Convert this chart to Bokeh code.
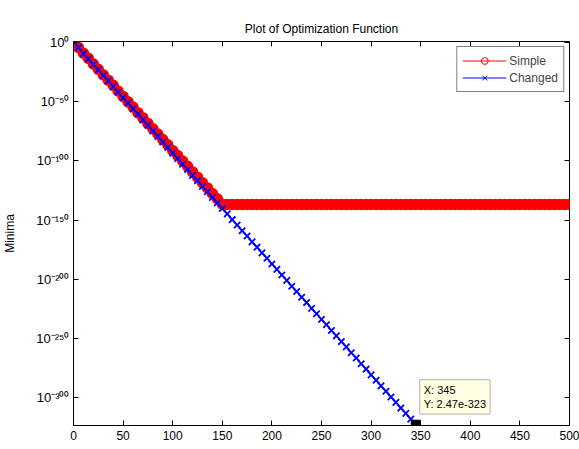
import numpy as np
from bokeh.plotting import figure
from bokeh.models import (Range1d, FixedTicker, LinearAxis, Legend,
                          LegendItem, Label, ColumnDataSource, CustomJSTickFormatter)
from bokeh.embed import file_html
from bokeh.resources import INLINE

# ---------------- data ----------------
title_text = "Plot of Optimization Function"
y_label = "Minima"
x_ticks = [0, 50, 100, 150, 200, 250, 300, 350, 400, 450, 500]
y_tick_exponents = [0, -50, -100, -150, -200, -250, -300]

# values are plotted as powers of ten (log10 of the minima)
simple_x = [0, 5, 10, 15, 20, 25, 30, 35, 40, 45, 50, 55, 60, 65, 70, 75, 80, 85,
            90, 95, 100, 105, 110, 115, 120, 125, 130, 135, 140, 145, 150,
            155, 160, 165, 170, 175, 180, 185, 190, 195, 200, 205, 210, 215, 220,
            225, 230, 235, 240, 245, 250, 255, 260, 265, 270, 275, 280, 285, 290,
            295, 300, 305, 310, 315, 320, 325, 330, 335, 340, 345, 350, 355, 360,
            365, 370, 375, 380, 385, 390, 395, 400, 405, 410, 415, 420, 425, 430,
            435, 440, 445, 450, 455, 460, 465, 470, 475, 480, 485, 490, 495, 500]
simple_exp = [0.0, -4.5, -9.3, -13.6, -18.4, -22.9, -27.5, -32.0, -36.4, -41.2,
              -45.7, -50.3, -54.6, -59.4, -63.8, -68.5, -73.0, -77.4, -82.1, -86.5,
              -91.3, -95.6, -100.2, -104.7, -109.4, -113.8, -118.5, -122.9, -127.6,
              -132.0, -136.7,
              -136.8, -136.8, -136.8, -136.8, -136.8, -136.8, -136.8, -136.8, -136.8,
              -136.8, -136.8, -136.8, -136.8, -136.8, -136.8, -136.8, -136.8, -136.8,
              -136.8, -136.8, -136.8, -136.8, -136.8, -136.8, -136.8, -136.8, -136.8,
              -136.8, -136.8, -136.8, -136.8, -136.8, -136.8, -136.8, -136.8, -136.8,
              -136.8, -136.8, -136.8, -136.8, -136.8, -136.8, -136.8, -136.8, -136.8,
              -136.8, -136.8, -136.8, -136.8, -136.8, -136.8, -136.8, -136.8, -136.8,
              -136.8, -136.8, -136.8, -136.8, -136.8, -136.8, -136.8, -136.8, -136.8,
              -136.8, -136.8, -136.8, -136.8, -136.8, -136.8, -136.8]

changed_x = [0, 5, 10, 15, 20, 25, 30, 35, 40, 45, 50, 55, 60, 65, 70, 75, 80, 85,
             90, 95, 100, 105, 110, 115, 120, 125, 130, 135, 140, 145, 150, 155,
             160, 165, 170, 175, 180, 185, 190, 195, 200, 205, 210, 215, 220, 225,
             230, 235, 240, 245, 250, 255, 260, 265, 270, 275, 280, 285, 290, 295,
             300, 305, 310, 315, 320, 325, 330, 335, 340, 345]
changed_exp = [0.0, -4.5, -9.6, -14.0, -18.8, -23.3, -28.1, -32.6, -37.5, -42.0,
               -46.9, -51.3, -56.2, -60.6, -65.5, -70.0, -74.9, -79.4, -84.2, -88.7,
               -93.6, -98.1, -102.9, -107.4, -112.3, -116.8, -121.6, -126.1, -131.0,
               -135.5, -140.3, -144.8, -149.7, -154.2, -159.0, -163.5, -168.4, -172.9,
               -177.7, -182.2, -187.1, -191.6, -196.4, -200.9, -205.8, -210.3, -215.1,
               -219.6, -224.5, -229.0, -233.8, -238.3, -243.2, -247.7, -252.5, -257.0,
               -261.9, -266.4, -271.2, -275.7, -280.6, -285.1, -289.9, -294.4, -299.3,
               -303.8, -308.6, -313.1, -317.9, -322.6]

tip_x = [345]
tip_y = [2.47e-323]
tip_text = "X: 345\nY: 2.47e-323"

# ---------------- figure ----------------
FONT = "Liberation Sans"
SUP = str.maketrans("-0123456789", "⁻⁰¹²³⁴⁵⁶⁷⁸⁹")

simple_src = ColumnDataSource(dict(x=simple_x, y=simple_exp))
changed_src = ColumnDataSource(dict(x=changed_x, y=changed_exp))
tip_src = ColumnDataSource(dict(x=tip_x, y=np.log10(np.array(tip_y))))

p = figure(width=579, height=449,
           x_range=Range1d(0, 500), y_range=Range1d(-323.3, 0.6),
           output_backend="svg", toolbar_location=None,
           min_border_left=71, min_border_right=10, min_border_top=41,
           min_border_bottom=24, background_fill_color="white",
           border_fill_color="white")

p.title.text = title_text
p.title.align = "center"
p.title.vertical_align = "middle"
p.title.text_font = FONT
p.title.text_font_size = "12px"
p.title.text_font_style = "normal"
p.title.text_color = "black"

p.xgrid.visible = False
p.ygrid.visible = False
p.outline_line_color = "black"
p.outline_line_width = 1

p.xaxis.ticker = FixedTicker(ticks=x_ticks)
p.yaxis.ticker = FixedTicker(ticks=y_tick_exponents)
p.yaxis.major_label_overrides = {e: "10" + str(e).translate(SUP) for e in y_tick_exponents}
for ax in list(p.xaxis) + list(p.yaxis):
    ax.major_tick_in = 5
    ax.major_tick_out = 0
    ax.minor_tick_line_color = None
    ax.axis_line_color = "black"
    ax.major_tick_line_color = "black"
    ax.major_label_text_font = FONT
    ax.major_label_text_font_size = "12px"
    ax.major_label_text_color = "black"
    ax.axis_label_text_font = FONT
    ax.axis_label_text_font_size = "12px"
    ax.axis_label_text_font_style = "normal"
    ax.axis_label_text_color = "black"
p.yaxis.axis_label = y_label
p.yaxis.axis_label_standoff = 16
p.yaxis.major_label_text_font_size = "13px"
p.yaxis.major_label_standoff = 4
p.xaxis.major_label_standoff = 5

top_ax = LinearAxis(ticker=FixedTicker(ticks=x_ticks), major_tick_in=5, major_tick_out=0,
                    minor_tick_line_color=None, axis_line_color=None,
                    formatter=CustomJSTickFormatter(code="return ''"),
                    major_label_standoff=0)
right_ax = LinearAxis(ticker=FixedTicker(ticks=y_tick_exponents),
                      major_tick_in=5, major_tick_out=0,
                      minor_tick_line_color=None, axis_line_color=None,
                      formatter=CustomJSTickFormatter(code="return ''"),
                      major_label_standoff=0)
p.add_layout(top_ax, "above")
p.add_layout(right_ax, "right")

# Simple series
r_line = p.line("x", "y", source=simple_src, line_color="red", line_width=1)
r_pts = p.scatter("x", "y", source=simple_src, marker="circle", size=10,
                  line_color="red", line_width=1.5, fill_color="red")
# Changed series
b_line = p.line("x", "y", source=changed_src, line_color="blue", line_width=1.5)
b_pts = p.scatter("x", "y", source=changed_src, marker="x", size=9,
                  line_color="blue", line_width=1.8)

# data tip
p.scatter("x", "y", source=tip_src, marker="square", size=9,
          fill_color="black", line_color="black")
tip = Label(x=349, y=-313.7, x_units="data", y_units="data", text=tip_text,
            anchor="bottom_left", text_font=FONT, text_font_size="11px",
            text_color="black", background_fill_color="#ffffe1",
            border_line_color="#b0b0b0", padding=4)
p.add_layout(tip)

# legend-only glyphs (no visible data: NaN positions), thin markers as in the reference
nan_src = ColumnDataSource(dict(x=[np.nan], y=[np.nan]))
leg_o = p.scatter("x", "y", source=nan_src, marker="circle", size=8,
                  line_color="red", line_width=1, fill_color=None)
leg_x = p.scatter("x", "y", source=nan_src, marker="x", size=6,
                  line_color="blue", line_width=1)
r_leg_line = p.line("x", "y", source=nan_src, line_color="red", line_width=1)
b_leg_line = p.line("x", "y", source=nan_src, line_color="blue", line_width=1)
legend = Legend(items=[LegendItem(label="Simple", renderers=[r_leg_line, leg_o], index=0),
                       LegendItem(label="Changed", renderers=[b_leg_line, leg_x], index=0)],
                location="top_right", margin=5, padding=5, spacing=0,
                glyph_width=44, glyph_height=17, label_standoff=3,
                label_text_font=FONT, label_text_font_size="12px",
                border_line_color="black", border_line_width=1,
                background_fill_color="white", background_fill_alpha=1)
p.add_layout(legend)

open("out.html", "w").write(file_html(p, INLINE))
